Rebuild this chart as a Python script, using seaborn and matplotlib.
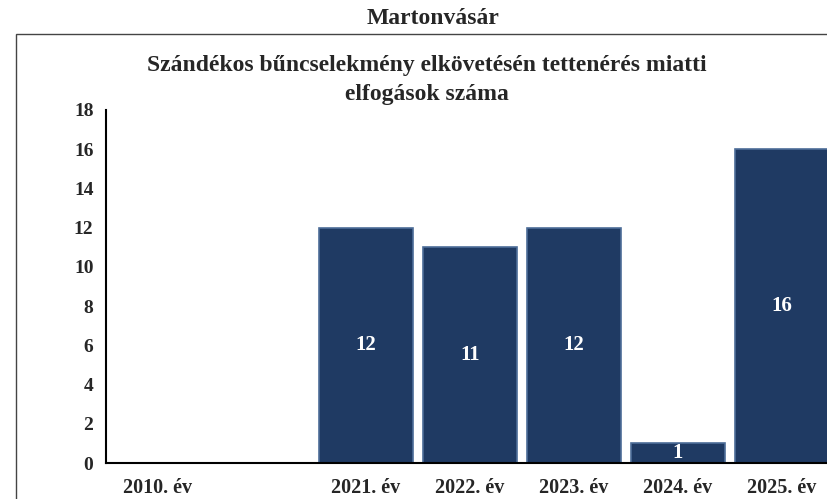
import numpy as np
import pandas as pd
import matplotlib
matplotlib.use("Agg")
import matplotlib.pyplot as plt
from matplotlib.patches import Rectangle
import seaborn as sns

# adatok
categories = ["2010. év", " ", "2021. év", "2022. év", "2023. év", "2024. év", "2025. év"]
values = [np.nan, np.nan, 12, 11, 12, 1, 16]
y_ticks = [0, 2, 4, 6, 8, 10, 12, 14, 16, 18]

sns.set_style("white")
plt.rcParams["font.family"] = ["Liberation Serif", "DejaVu Serif"]
plt.rcParams["font.weight"] = "bold"

BAR = "#1f3a63"

df = pd.DataFrame({"ev": categories, "db": values})

fig = plt.figure(figsize=(8.27, 4.99), dpi=100)
ax = fig.add_axes([106 / 827, 1 - 463 / 499, 728 / 827, 353 / 499])

sns.barplot(data=df, x="ev", y="db", order=categories, color=BAR,
            saturation=1, width=0.9, edgecolor="#4d6d98", linewidth=1.2, ax=ax)

# értékcímkék az oszlopok közepén
for i, v in enumerate(values):
    if not np.isnan(v):
        ax.text(i, v / 2, f"{int(v)}", ha="center", va="center",
                color="white", fontsize=15, fontweight="bold")

ax.set_ylim(0, 18)
ax.set_xlim(-0.5, len(categories) - 0.5)
ax.set_yticks(y_ticks)
ax.set_xticks(range(len(categories)))
ax.set_xticklabels(categories)
ax.set_xticks(np.arange(-0.5, len(categories), 1.0), minor=True)
ax.tick_params(axis="x", which="major", length=0, pad=11, labelsize=14.5)
ax.tick_params(axis="x", which="minor", length=6, width=1.3, direction="out", color="black")
ax.tick_params(axis="y", length=5, width=1.3, direction="out", color="black", labelsize=14, pad=4)
ax.set_xlabel("")
ax.set_ylabel("")
for t in ax.get_xticklabels() + ax.get_yticklabels():
    t.set_fontweight("bold")

sns.despine(ax=ax, top=True, right=True)
ax.spines["left"].set_linewidth(1.5)
ax.spines["bottom"].set_linewidth(1.5)
ax.spines["left"].set_color("black")
ax.spines["bottom"].set_color("black")

# címek
fig.text(433 / 827, 1 - 19 / 499, "Martonvásár", ha="center", va="center",
         fontsize=17, fontweight="bold")
fig.text(427 / 827, 1 - 80 / 499,
         "Szándékos bűncselekmény elkövetésén tettenérés miatti\nelfogások száma",
         ha="center", va="center", fontsize=17, fontweight="bold", linespacing=1.55)

# külső keret
fig.add_artist(Rectangle((16 / 827, -0.1), 1.0, 1 - 34 / 499 + 0.1,
                         transform=fig.transFigure, fill=False,
                         edgecolor="#444444", linewidth=1.0))

fig.savefig("out.png", dpi=100)
